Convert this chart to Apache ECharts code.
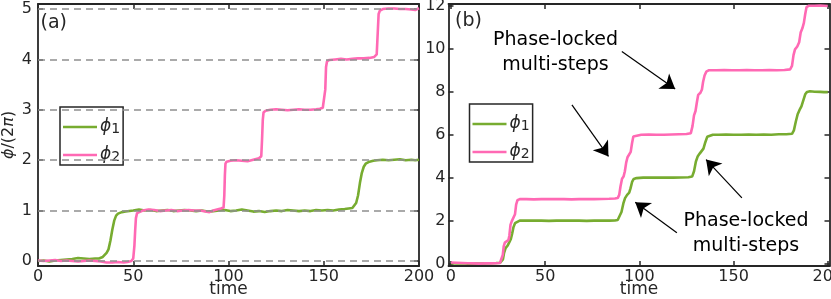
<!DOCTYPE html>
<html><head><meta charset="utf-8">
<script src="https://cdn.jsdelivr.net/npm/echarts@6/dist/echarts.min.js"></script>
<style>html,body{margin:0;padding:0;background:#fff}#c{width:831px;height:299px}</style>
</head><body><div id="c"></div>
<script>
// ---- data (time, phase/(2π)) ----
const xTicks = [0, 50, 100, 150, 200];
const yTicksA = [0, 1, 2, 3, 4, 5];
const yTicksB = [0, 2, 4, 6, 8, 10, 12];
const seriesNames = ['ϕ1', 'ϕ2'];

const a_phi1 = [[0,0],[3,0.01],[6,-0.01],[9,0.01],[12,0.02],[15,0.03],[18,0.04],[21,0.06],[24,0.05],[27,0.04],[30,0.05],[32,0.05],[34,0.08],[35,0.11],[36,0.16],[37,0.23],[38,0.4],[39,0.62],[40,0.8],[41,0.9],[42,0.94],[43,0.96],[44,0.97],[46,0.98],[48,0.99],[50,1.0],[53,1.02],[56,1.0],[59,1.01],[62,0.99],[65,1.0],[68,1.01],[71,0.99],[74,1.0],[77,1.01],[80,1.0],[83,0.99],[86,1.0],[89,0.98],[92,0.99],[95,1.0],[98,1.01],[101,0.99],[104,1.0],[107,1.02],[110,1.0],[113,0.98],[116,0.99],[119,0.97],[122,0.99],[125,1.0],[128,0.99],[131,1.01],[134,1.0],[137,0.99],[140,1.0],[143,0.99],[146,1.01],[149,1.0],[152,1.01],[155,1.0],[158,1.02],[161,1.03],[163,1.04],[165,1.05],[166,1.08],[167,1.15],[168,1.3],[169,1.55],[170,1.75],[171,1.87],[172,1.93],[173,1.96],[174,1.97],[176,1.99],[178,2.0],[181,2.01],[184,2.0],[187,2.01],[190,2.02],[193,2.0],[196,2.01],[198,2.0],[200,2.01]];

const a_phi2 = [[0,0.01],[3,0.0],[6,0.01],[9,0.02],[12,0.0],[15,0.01],[18,0.0],[21,-0.01],[24,0.0],[27,0.01],[30,0.0],[33,-0.01],[36,-0.03],[39,-0.03],[42,-0.02],[45,-0.03],[47,-0.02],[49,0.0],[50,0.05],[50.6,0.3],[51,0.6],[51.4,0.85],[52,0.95],[53,0.98],[55,1.0],[58,1.02],[61,1.01],[64,0.99],[67,1.0],[70,1.01],[73,0.99],[76,1.0],[79,1.01],[82,1.0],[85,1.0],[88,0.98],[90,0.97],[92,1.0],[94,1.02],[96,1.04],[97.4,1.06],[97.8,1.3],[98.1,1.7],[98.4,1.93],[99,1.97],[101,1.99],[104,2.0],[107,1.99],[110,1.98],[112,2.0],[114,2.02],[116,2.04],[117.2,2.08],[117.6,2.4],[118,2.8],[118.4,2.95],[119.5,2.98],[122,3.0],[125,3.01],[128,3.0],[131,2.99],[134,3.0],[137,3.01],[140,3.0],[143,3.0],[146,3.01],[148,3.02],[149.5,3.04],[150.4,3.07],[150.8,3.4],[151.2,3.85],[151.7,3.96],[153,3.99],[156,4.0],[159,4.01],[162,4.0],[165,4.01],[168,4.02],[171,4.02],[174,4.03],[176.5,4.05],[177.8,4.1],[178.3,4.5],[178.8,4.9],[179.5,4.97],[181,5.0],[184,5.01],[187,5.01],[190,5.0],[193,5.0],[196,4.99],[198,4.98],[200,5.02]];

const b_phi1 = [[0,0.02],[3,0.01],[6,0.02],[9,0.0],[12,0.01],[15,0.0],[18,0.01],[21,0.02],[24,0.03],[26,0.04],[27,0.06],[27.6,0.2],[28.2,0.5],[29,0.72],[30,0.83],[31,1.0],[31.8,1.15],[32.5,1.4],[33.2,1.7],[34,1.88],[35,1.96],[36.5,2.0],[40,2.0],[44,2.01],[48,2.0],[52,1.99],[56,2.0],[60,2.01],[64,2.0],[68,2.0],[72,1.99],[76,2.0],[80,2.01],[84,2.0],[87,2.01],[88.5,2.03],[89.5,2.1],[90.5,2.4],[91.5,2.8],[92.4,3.05],[93.5,3.2],[94.6,3.3],[95.3,3.5],[96.2,3.82],[97,3.94],[98.5,3.98],[102,4.0],[106,4.0],[110,4.01],[114,4.0],[118,4.0],[122,4.01],[126,4.02],[128,4.05],[129,4.3],[130,4.75],[131,5.0],[132,5.12],[133,5.2],[134,5.35],[135,5.65],[136,5.9],[137,5.98],[139,6.0],[142,6.0],[146,6.01],[150,6.0],[154,6.0],[158,6.01],[162,6.0],[166,6.01],[170,6.0],[174,6.02],[178,6.02],[181,6.04],[182,6.2],[183,6.6],[184,6.95],[185,7.15],[186,7.32],[187,7.6],[188,7.88],[189,7.99],[190.5,8.02],[193,8.0],[196,7.99],[198,7.98],[200,7.98]];

const b_phi2 = [[0,0.05],[3,0.04],[6,0.03],[9,0.02],[12,0.01],[15,0.0],[18,0.01],[21,0.01],[24,0.02],[26,0.03],[27,0.08],[27.5,0.4],[28,0.8],[28.6,0.98],[29.5,1.05],[30.5,1.1],[31,1.3],[31.6,1.8],[32.3,1.98],[33.3,2.05],[34,2.3],[34.6,2.75],[35.3,2.95],[36.5,3.0],[40,3.0],[44,2.99],[48,3.0],[52,3.01],[56,3.0],[60,3.0],[64,2.99],[68,3.0],[72,3.01],[76,3.0],[80,3.01],[84,3.02],[87,3.03],[88.5,3.05],[89.3,3.2],[90,3.6],[90.8,3.95],[91.6,4.05],[92.3,4.3],[93,4.7],[93.7,4.95],[94.6,5.03],[95.4,5.2],[96.1,5.6],[96.8,5.92],[97.8,6.0],[101,6.0],[105,6.01],[109,6.0],[113,6.0],[117,6.01],[121,6.02],[125,6.03],[127.3,6.07],[128.2,6.4],[129,6.9],[129.8,7.1],[130.5,7.5],[131.2,7.85],[132.4,7.95],[133.2,8.1],[133.8,8.45],[134.6,8.75],[135.5,8.93],[137,9.0],[141,9.0],[145,9.01],[149,9.0],[153,9.0],[157,9.01],[161,9.0],[165,9.0],[169,9.01],[173,9.0],[177,9.01],[180,9.04],[181,9.2],[181.8,9.7],[182.6,9.97],[183.8,10.1],[184.8,10.3],[185.6,10.75],[186.5,10.95],[187.3,11.2],[188,11.6],[188.7,11.93],[190,12.0],[193,12.0],[196,12.01],[200,11.99]];

// annotation arrows in panel (b): [from, to] in data coords
const arrowsB = [
  [[90.7, 9.87], [119, 8.12]],
  [[64.2, 7.39], [83.6, 4.99]],
  [[119.9, 1.44], [97.8, 2.86]],
  [[154.4, 3.06], [135.4, 4.84]]
];
const notesB = [
  {coord: [55.5, 9.83], text: 'Phase-locked\nmulti-steps'},
  {coord: [156.6, 1.41], text: 'Phase-locked\nmulti-steps'}
];

// ---- chart ----
const FONT = 'DejaVu Sans';
const TXT = '#262626';
const GREEN = '#77AC30';
const PINK = '#FF69B4';
const chart = echarts.init(document.getElementById('c'), null, {renderer: 'canvas'});

function xAx(grid, min, max, pos, showLabel, name) {
  return {
    type: 'value', gridIndex: grid, min: min, max: max, position: pos,
    name: name || '', nameLocation: 'middle', nameGap: 15, nameMoveOverlap: false,
    nameTextStyle: {fontFamily: FONT, fontSize: 17, color: TXT},
    axisLine: {show: true, onZero: false, lineStyle: {color: TXT, width: 1.8}},
    axisTick: {show: true, inside: true, length: 5, customValues: xTicks, lineStyle: {color: TXT, width: 1.5}},
    axisLabel: {show: showLabel, customValues: xTicks, margin: 3, fontFamily: FONT, fontSize: 16, color: TXT},
    splitLine: {show: false}
  };
}
function yAx(grid, min, max, ticks, pos, showLabel, margin, name) {
  return {
    type: 'value', gridIndex: grid, min: min, max: max, position: pos,
    name: name || '', nameLocation: 'middle', nameGap: 21,
    nameTextStyle: {fontFamily: FONT, fontSize: 16, color: TXT,
      rich: {i: {fontFamily: FONT, fontSize: 16, fontStyle: 'italic', color: TXT}}},
    axisLine: {show: true, onZero: false, lineStyle: {color: TXT, width: 1.8}},
    axisTick: {show: true, inside: true, length: 5, customValues: ticks, lineStyle: {color: TXT, width: 1.5}},
    axisLabel: {show: showLabel, customValues: ticks, margin: margin, fontFamily: FONT, fontSize: 16, color: TXT},
    splitLine: {show: false}
  };
}

const legendBase = {
  orient: 'vertical', data: seriesNames, icon: 'rect', itemWidth: 34, itemHeight: 2.5, itemGap: 1,
  padding: [2, 3, 1, 3], borderColor: TXT, borderWidth: 1.5, backgroundColor: '#fff',
  borderRadius: 0, selectedMode: false,
  formatter: function (n) { return '{p|ϕ}{s|' + n.slice(1) + '}'; },
  textStyle: {
    color: TXT, padding: [0, 0, 0, -2],
    rich: {
      p: {fontFamily: FONT, fontSize: 17, fontStyle: 'italic', color: TXT, lineHeight: 18},
      s: {fontFamily: FONT, fontSize: 14, color: TXT, lineHeight: 13, padding: [13, 0, 0, 0], verticalAlign: 'bottom'}
    }
  }
};

const option = {
  animation: false,
  backgroundColor: '#fff',
  grid: [
    {left: 38, top: 4, width: 381, height: 262, outerBoundsMode: 'none', containLabel: false},
    {left: 448.5, top: 4, width: 381, height: 262, outerBoundsMode: 'none', containLabel: false}
  ],
  xAxis: [
    xAx(0, 0, 200, 'bottom', true, 'time'),
    xAx(0, 0, 200, 'top', false),
    xAx(1, -1.3, 200.9, 'bottom', true, 'time'),
    xAx(1, -1.3, 200.9, 'top', false)
  ],
  yAxis: [
    yAx(0, -0.1, 5.1, yTicksA, 'left', true, 6, '{i|ϕ}/(2{i|π})'),
    yAx(0, -0.1, 5.1, yTicksA, 'right', false, 6),
    yAx(1, -0.11, 12.08, yTicksB, 'left', true, 3),
    yAx(1, -0.11, 12.08, yTicksB, 'right', false, 3)
  ],
  legend: [
    Object.assign({}, legendBase, {left: 60, top: 107}),
    Object.assign({}, legendBase, {left: 469.5, top: 104})
  ],
  graphic: [
    {type: 'text', left: 40.5, top: 14, style: {text: '(a)', fontSize: 19, fontFamily: FONT, fill: TXT}},
    {type: 'text', left: 455, top: 12, style: {text: '(b)', fontSize: 19, fontFamily: FONT, fill: TXT}}
  ],
  series: [
    {
      type: 'line', xAxisIndex: 0, yAxisIndex: 0, data: [], silent: true, z: 1,
      markLine: {
        silent: true, symbol: ['none', 'none'], label: {show: false}, animation: false,
        lineStyle: {color: '#8f8f8f', width: 1.5, type: [7, 5]},
        emphasis: {disabled: true},
        data: yTicksA.map(v => ({yAxis: v}))
      }
    },
    {name: seriesNames[0], type: 'line', xAxisIndex: 0, yAxisIndex: 0, data: a_phi1, showSymbol: false, symbol: 'none',
     lineStyle: {color: GREEN, width: 2.6}, itemStyle: {color: GREEN}, z: 3},
    {name: seriesNames[1], type: 'line', xAxisIndex: 0, yAxisIndex: 0, data: a_phi2, showSymbol: false, symbol: 'none',
     lineStyle: {color: PINK, width: 2.6}, itemStyle: {color: PINK}, z: 4},
    {name: seriesNames[0], type: 'line', xAxisIndex: 2, yAxisIndex: 2, data: b_phi1, showSymbol: false, symbol: 'none',
     lineStyle: {color: GREEN, width: 2.6}, itemStyle: {color: GREEN}, z: 3},
    {name: seriesNames[1], type: 'line', xAxisIndex: 2, yAxisIndex: 2, data: b_phi2, showSymbol: false, symbol: 'none',
     lineStyle: {color: PINK, width: 2.6}, itemStyle: {color: PINK}, z: 4},
    {
      type: 'line', xAxisIndex: 2, yAxisIndex: 2, data: [], silent: true, z: 5,
      markLine: {
        silent: true, symbol: ['none', 'arrow'], symbolSize: 14, label: {show: false}, animation: false,
        lineStyle: {color: '#000', width: 1.2, type: 'solid'},
        emphasis: {disabled: true},
        data: arrowsB.map(a => [{coord: a[0]}, {coord: a[1]}])
      },
      markPoint: {
        silent: true, symbol: 'circle', symbolSize: 0, animation: false,
        itemStyle: {color: 'rgba(0,0,0,0)'},
        label: {show: true, position: 'inside', fontFamily: FONT, fontSize: 19, lineHeight: 25, color: '#000', align: 'center'},
        data: notesB.map(n => ({coord: n.coord, value: 0, label: {formatter: n.text}}))
      }
    }
  ]
};
chart.setOption(option);
</script>
</body></html>
